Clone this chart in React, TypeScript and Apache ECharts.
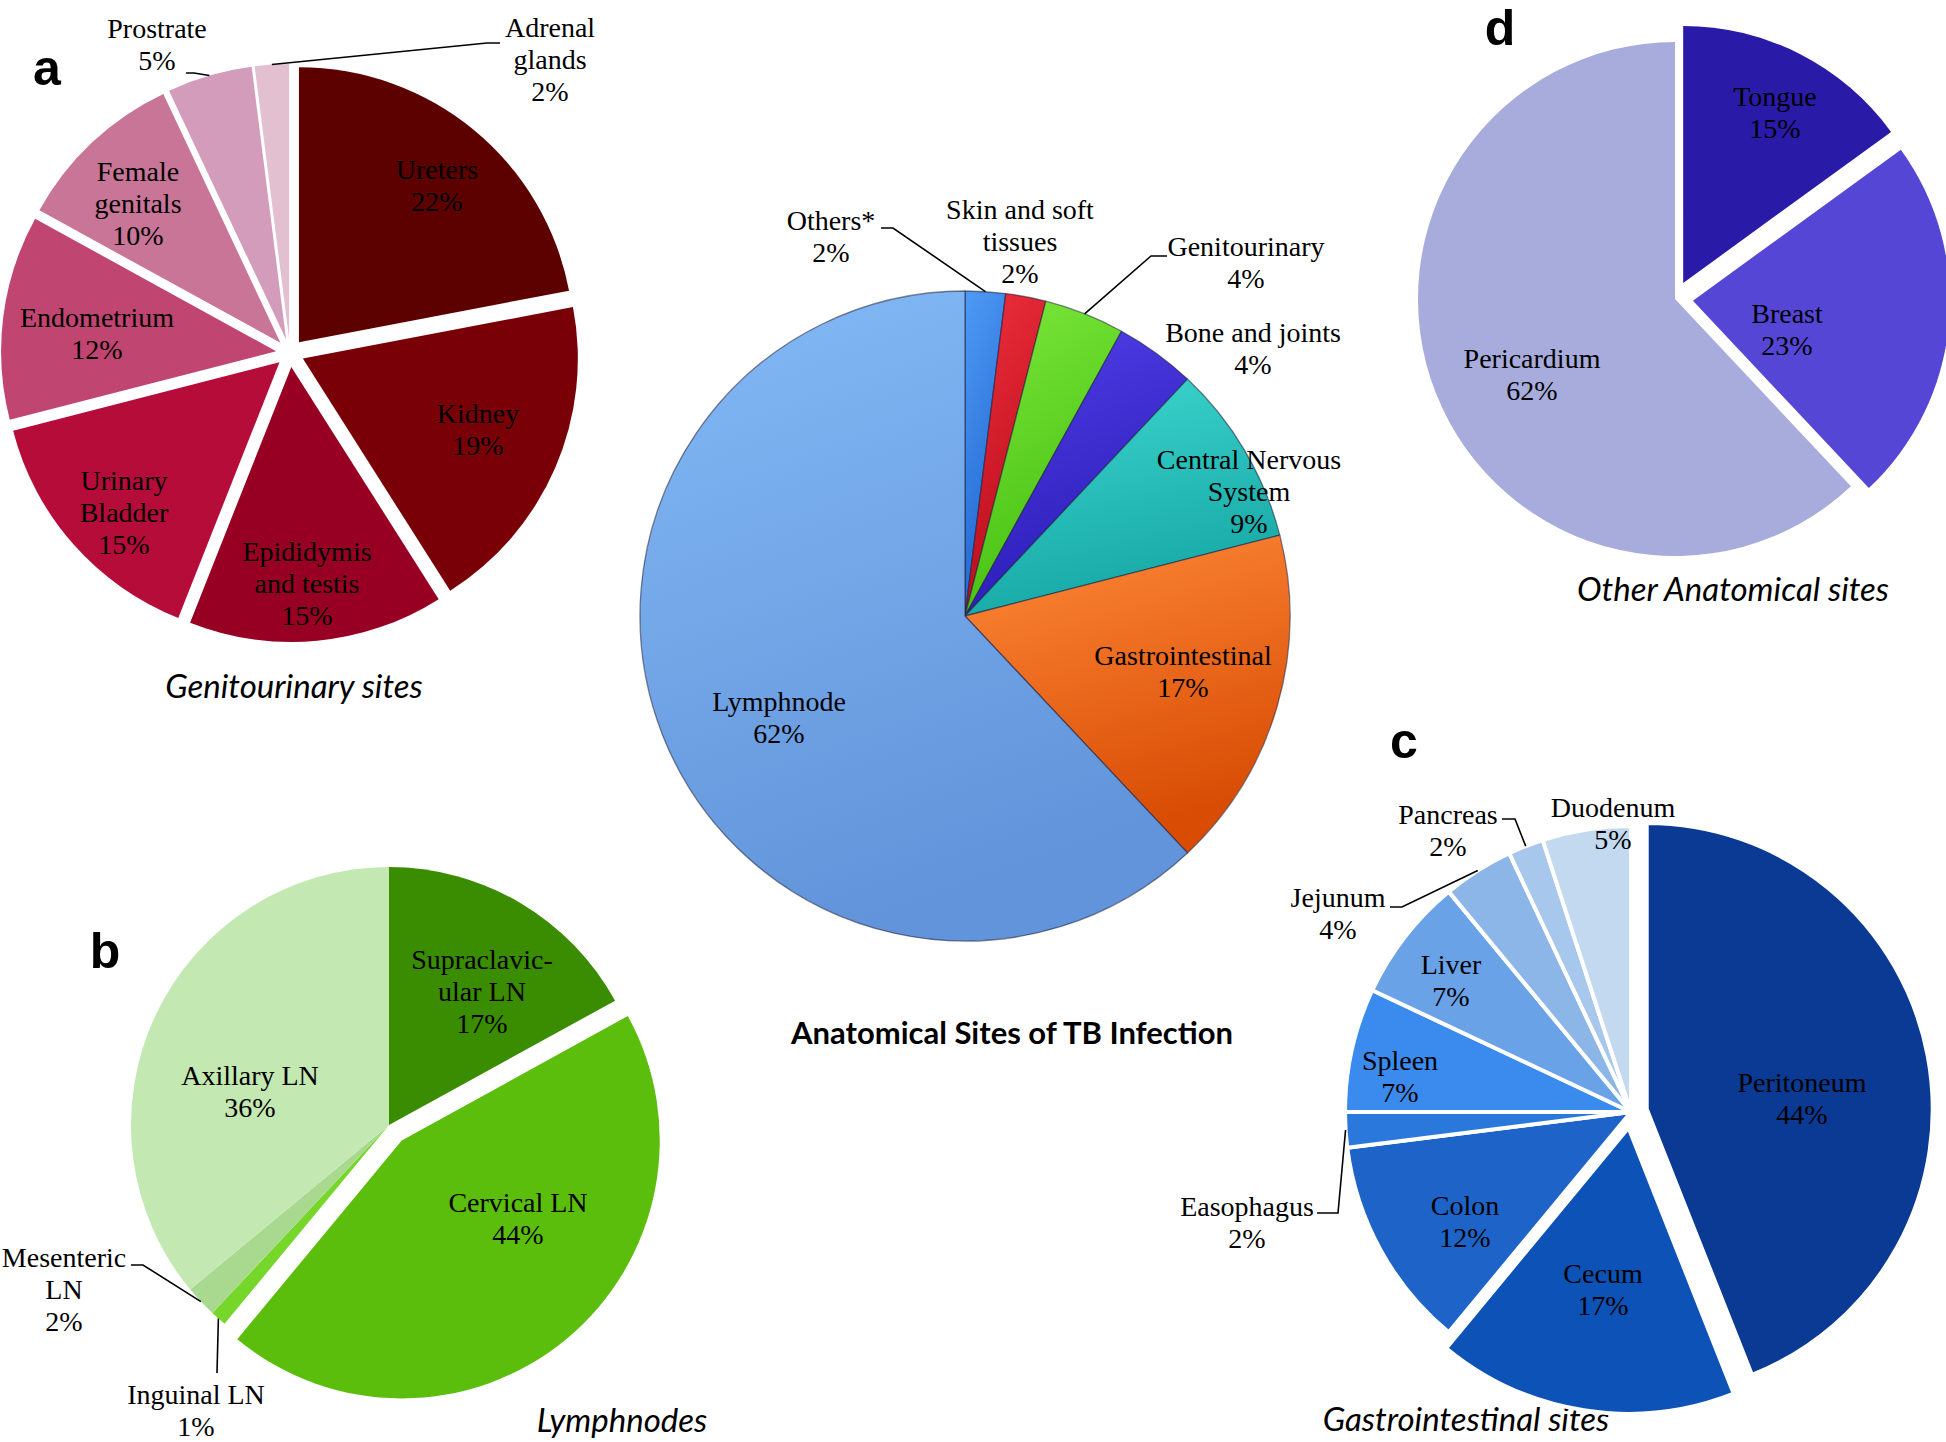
import React, { useEffect, useRef } from "react";
import * as echarts from "echarts";

// ---------------- DATA ----------------
const mainNames = ["Others*", "Skin and soft\ntissues", "Genitourinary", "Bone and joints", "Central Nervous\nSystem", "Gastrointestinal", "Lymphnode"];
const mainValues = [2, 2, 4, 4, 9, 17, 62];

const guNames = ["Ureters", "Kidney", "Epididymis\nand testis", "Urinary\nBladder", "Endometrium", "Female\ngenitals", "Prostrate", "Adrenal\nglands"];
const guValues = [22, 19, 15, 15, 12, 10, 5, 2];

const lnNames = ["Supraclavic-\nular LN", "Cervical LN", "Inguinal LN", "Mesenteric\nLN", "Axillary LN"];
const lnValues = [17, 44, 1, 2, 36];

const giNames = ["Peritoneum", "Cecum", "Colon", "Easophagus", "Spleen", "Liver", "Jejunum", "Pancreas", "Duodenum"];
const giValues = [44, 17, 12, 2, 7, 7, 4, 2, 5];

const otherNames = ["Tongue", "Breast", "Pericardium"];
const otherValues = [15, 23, 62];

const mainTitle = "Anatomical Sites of TB Infection";
const subTitles = ["Genitourinary sites", "Lymphnodes", "Gastrointestinal sites", "Other Anatomical sites"];
const panelLetters = ["a", "b", "c", "d"];

// ---------------- STYLES / LAYOUT ----------------
const mainColors: string[][] = [
  ["#4f9af5", "#1f66d0"],
  ["#f0303c", "#b80c1c"],
  ["#7ce83a", "#46c012"],
  ["#5040e8", "#2c1cb8"],
  ["#40d8d0", "#16a8a6"],
  ["#ff8a3a", "#d84c04"],
  ["#84baf6", "#6194da"],
];
const guColors = ["#5c0000", "#7a0008", "#970022", "#b50c3a", "#c04570", "#c87598", "#d49cbb", "#e3c0d0"];
const lnColors = ["#3a8c00", "#5bbd0c", "#76d62a", "#a9d98e", "#c3e8b2"];
const giColors = ["#0a3a94", "#0d52b6", "#1e64c8", "#2a78dc", "#3b8bef", "#6aa2e8", "#8db6e8", "#a8c7ec", "#c3d9ef"];
const otherColors = ["#2a1aa8", "#5546d6", "#a8acdc"];

type Pt = number[];
interface PieCfg {
  names: string[];
  values: number[];
  colors: any[];
  center: Pt;
  r: number;
  offset: number;
  selected: number[];
  borderColor: string;
  borderWidth: number;
  labels: Pt[];
  leaders: Record<number, Pt[]>;
}

const labelFont = {
  fontFamily: "Liberation Serif",
  fontSize: 28,
  lineHeight: 32,
  color: "#000",
};

// visible slices (with exploded / selected pieces), no labels
function pieShapes(cfg: PieCfg) {
  return {
    type: "pie",
    center: cfg.center,
    radius: cfg.r,
    startAngle: 90,
    clockwise: true,
    selectedMode: "multiple",
    selectedOffset: cfg.offset,
    emphasis: { disabled: true },
    silent: true,
    itemStyle: { borderColor: cfg.borderColor, borderWidth: cfg.borderWidth },
    label: { show: false },
    labelLine: { show: false },
    data: cfg.names.map((n, i) => ({
      name: n,
      value: cfg.values[i],
      selected: cfg.selected.indexOf(i) >= 0,
      itemStyle: { color: cfg.colors[i] },
    })),
  };
}

// transparent twin pie that carries the labels and leader lines
function pieLabels(cfg: PieCfg) {
  return {
    type: "pie",
    center: cfg.center,
    radius: cfg.r,
    startAngle: 90,
    clockwise: true,
    selectedMode: false,
    avoidLabelOverlap: false,
    emphasis: { disabled: true },
    silent: true,
    z: 5,
    itemStyle: { color: "rgba(0,0,0,0)", borderWidth: 0 },
    label: {
      show: true,
      position: "inside",
      formatter: (p: any) => `${p.name}\n${p.value}%`,
      align: "center",
      verticalAlign: "middle",
      ...labelFont,
    },
    labelLine: { show: false },
    labelLayout: (p: any) => {
      const pos = cfg.labels[p.dataIndex];
      const out: any = { x: pos[0], y: pos[1], align: "center", verticalAlign: "middle" };
      const ld = cfg.leaders[p.dataIndex];
      if (ld && p.labelLinePoints) {
        let s = p.labelLinePoints[0];
        if (cfg.selected.indexOf(p.dataIndex) >= 0) {
          const dx = s[0] - cfg.center[0];
          const dy = s[1] - cfg.center[1];
          const len = Math.sqrt(dx * dx + dy * dy) || 1;
          s = [s[0] + (dx / len) * cfg.offset, s[1] + (dy / len) * cfg.offset];
        }
        out.labelLinePoints = [s, ld[0], ld[1]];
      }
      return out;
    },
    data: cfg.names.map((n, i) => {
      const item: any = { name: n, value: cfg.values[i] };
      if (cfg.leaders[i]) {
        item.label = { position: "outside" };
        item.labelLine = { show: true, length: 10, length2: 10, lineStyle: { color: "#000", width: 1.6 } };
      }
      return item;
    }),
  };
}

const grad = (c: string[]) => ({
  type: "linear",
  x: 0,
  y: 0,
  x2: 0.3,
  y2: 1,
  colorStops: [
    { offset: 0, color: c[0] },
    { offset: 1, color: c[1] },
  ],
});

export default function App() {
  const ref = useRef<HTMLDivElement>(null);
  useEffect(() => {
    document.body.style.margin = "0";
    document.body.style.overflow = "hidden";
    const chart = echarts.init(ref.current!, null, { renderer: "svg" });

    const pies: PieCfg[] = [
      {
        names: mainNames,
        values: mainValues,
        colors: mainColors.map(grad),
        center: [965, 616],
        r: 325,
        offset: 0,
        selected: [],
        borderColor: "rgba(30,30,60,0.55)",
        borderWidth: 1.3,
        labels: [[831, 236], [1020, 241], [1246, 262], [1253, 348], [1249, 491], [1183, 671], [779, 717]],
        leaders: { 0: [[893, 228], [881, 228]], 2: [[1151, 256], [1167, 256]] },
      },
      {
        names: guNames,
        values: guValues,
        colors: guColors,
        center: [290, 353],
        r: 275,
        offset: 14,
        selected: [0, 1, 2, 3, 4, 5, 6, 7],
        borderColor: "#fff",
        borderWidth: 0,
        labels: [[437, 185], [478, 429], [307, 583], [124, 512], [97, 333], [138, 203], [157, 44], [550, 59]],
        leaders: { 6: [[194, 73], [186, 73]], 7: [[487, 43], [500, 43]] },
      },
      {
        names: lnNames,
        values: lnValues,
        colors: lnColors,
        center: [389, 1125],
        r: 258,
        offset: 20,
        selected: [1],
        borderColor: "#fff",
        borderWidth: 0,
        labels: [[482, 991], [518, 1218], [196, 1410], [64, 1289], [250, 1091]],
        leaders: { 2: [[217, 1373], [217, 1373]], 3: [[143, 1265], [131, 1265]] },
      },
      {
        names: giNames,
        values: giValues,
        colors: giColors,
        center: [1631, 1112],
        r: 286,
        offset: 16,
        selected: [0, 1],
        borderColor: "#fff",
        borderWidth: 4,
        labels: [[1802, 1098], [1603, 1289], [1465, 1221], [1247, 1222], [1400, 1076], [1451, 980], [1338, 913], [1448, 830], [1613, 823]],
        leaders: { 3: [[1338, 1213], [1317, 1213]], 6: [[1402, 907], [1390, 907]], 7: [[1515, 819], [1502, 819]] },
      },
      {
        names: otherNames,
        values: otherValues,
        colors: otherColors,
        center: [1675, 299],
        r: 257,
        offset: 18,
        selected: [0, 1],
        borderColor: "#fff",
        borderWidth: 0,
        labels: [[1775, 112], [1787, 329], [1532, 374]],
        leaders: {},
      },
    ];

    const series: any[] = [...pies.map(pieShapes), ...pies.map(pieLabels)];

    const subPos = [[294, 685], [622, 1419], [1466, 1418], [1733, 588]];
    const letterPos = [[47, 68], [105, 951], [1404, 741], [1500, 28]];

    const graphic: any[] = [
      {
        type: "text",
        x: 1012,
        y: 1032,
        style: {
          text: mainTitle,
          fontFamily: "Lato",
          fontWeight: "bold",
          fontSize: 31,
          fill: "#000",
          align: "center",
          verticalAlign: "middle",
        },
      },
      ...subTitles.map((t, i) => ({
        type: "text",
        x: subPos[i][0],
        y: subPos[i][1],
        style: {
          text: t,
          fontFamily: "Lato",
          fontStyle: "italic",
          fontSize: 33,
          fill: "#000",
          align: "center",
          verticalAlign: "middle",
        },
      })),
      ...panelLetters.map((t, i) => ({
        type: "text",
        x: letterPos[i][0],
        y: letterPos[i][1],
        style: {
          text: t,
          fontFamily: "Liberation Sans",
          fontWeight: "bold",
          fontSize: 50,
          fill: "#000",
          align: "center",
          verticalAlign: "middle",
        },
      })),
    ];

    chart.setOption({
      animation: false,
      backgroundColor: "#fff",
      series,
      graphic,
    } as any);
    return () => chart.dispose();
  }, []);
  return <div ref={ref} style={{ position: "absolute", left: 0, top: 0, width: 1946, height: 1442 }} />;
}
